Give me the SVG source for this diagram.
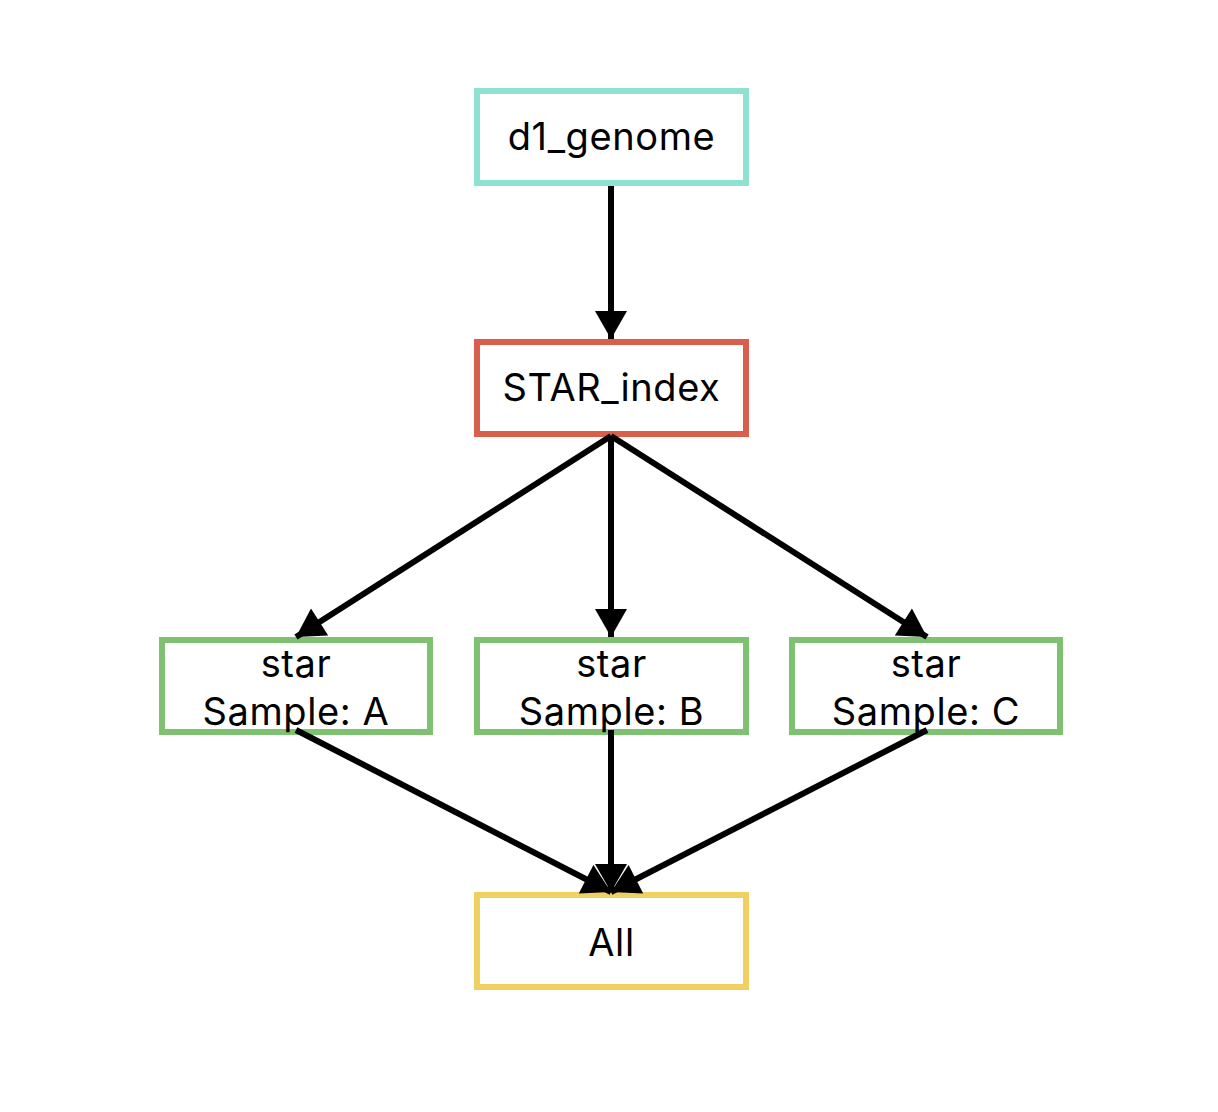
<svg xmlns="http://www.w3.org/2000/svg" width="1218" height="1112" viewBox="0 0 1218 1112">
<style>
.box{fill:#ffffff;stroke-width:6}
.t{font-family:Inter,"Liberation Sans",Arial,sans-serif;font-size:38px;letter-spacing:0.6px;fill:#000;text-anchor:middle}
.e{stroke:#000;stroke-width:6;fill:none;marker-end:url(#ah)}
</style>
<defs>
<marker id="ah" markerUnits="userSpaceOnUse" markerWidth="30" markerHeight="32" viewBox="0 0 28 32" refX="28" refY="16" orient="auto">
<path d="M0,0 L28,16 L0,32 Z" fill="#000"/>
</marker>
</defs>
<rect width="1218" height="1112" fill="#fff"/>
<g id="d1_genome"><rect class="box" x="477" y="91" width="269" height="92" stroke="#8EE2D2"/><text class="t" x="611.5" y="150">d1_genome</text></g>
<g id="STAR_index"><rect class="box" x="477" y="342" width="269" height="92" stroke="#D95E4B"/><text class="t" x="611.5" y="401">STAR_index</text></g>
<g id="star_A"><rect class="box" x="162" y="640" width="268" height="92" stroke="#7EC271"/><text class="t" x="296" y="677">star</text><text class="t" x="296" y="725">Sample: A</text></g>
<g id="star_B"><rect class="box" x="477" y="640" width="269" height="92" stroke="#7EC271"/><text class="t" x="611.5" y="677">star</text><text class="t" x="611.5" y="725">Sample: B</text></g>
<g id="star_C"><rect class="box" x="792" y="640" width="268" height="92" stroke="#7EC271"/><text class="t" x="926" y="677">star</text><text class="t" x="926" y="725">Sample: C</text></g>
<g id="All"><rect class="box" x="477" y="895" width="269" height="92" stroke="#F0D060"/><text class="t" x="611.5" y="956">All</text></g>
<g id="connectors">
<line class="e" x1="611" y1="186" x2="611" y2="339"/>
<line class="e" x1="611" y1="436" x2="296" y2="637"/>
<line class="e" x1="611" y1="436" x2="611" y2="637"/>
<line class="e" x1="611" y1="436" x2="927" y2="637"/>
<line class="e" x1="296" y1="730" x2="611" y2="892"/>
<line class="e" x1="611" y1="730" x2="611" y2="892"/>
<line class="e" x1="927" y1="730" x2="611" y2="892"/>
</g>
</svg>
